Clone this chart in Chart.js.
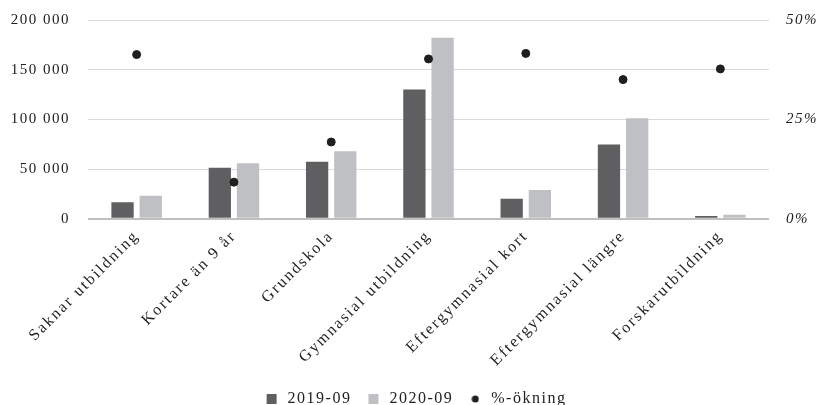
<!DOCTYPE html>
<html>
<head>
<meta charset="utf-8">
<script src="https://cdn.jsdelivr.net/npm/chart.js@4.4.1/dist/chart.umd.min.js"></script>
<style>
  html, body { margin: 0; padding: 0; background: #fff; }
  #wrap { width: 822px; height: 405px; }
</style>
</head>
<body>
<div id="wrap"><canvas id="chart"></canvas></div>
<script>
  var CATEGORIES = [
    'Saknar utbildning',
    'Kortare än 9 år',
    'Grundskola',
    'Gymnasial utbildning',
    'Eftergymnasial kort',
    'Eftergymnasial längre',
    'Forskarutbildning'
  ];
  var SERIES_2019 = [16500, 51200, 57300, 130000, 20200, 74700, 2800];
  var SERIES_2020 = [23200, 55900, 68000, 182100, 29000, 101000, 3900];
  var INCREASE = [0.413, 0.092, 0.193, 0.402, 0.416, 0.350, 0.377];

  var LEFT_MAX = 200000;
  var LEFT_STEP = 50000;
  var RIGHT_MAX = 0.5;
  var RIGHT_STEP = 0.125;

  var COLORS = {
    dark: '#5f5f61',
    light: '#bfc0c3',
    dot: '#1f1f1f',
    grid: '#d9d9d9',
    base: '#bfbfbf',
    text: '#222222'
  };

  var SERIF = '"Liberation Serif", "DejaVu Serif", serif';

  // letter spacing per piece of text (canvas ctx.letterSpacing)
  var SPACING = { base: '1.5px', x: '2px', y: '1.5px', y1: '1.5px' };

  function spaced(n) {
    return String(n).replace(/\B(?=(\d{3})+(?!\d))/g, ' ');
  }

  // small dot for the legend entry of the scatter series
  function legendDot() {
    var c = document.createElement('canvas');
    c.width = 8;
    c.height = 8;
    var g = c.getContext('2d');
    g.fillStyle = COLORS.dot;
    g.beginPath();
    g.arc(4, 4, 3.5, 0, Math.PI * 2);
    g.fill();
    return c;
  }

  function spacingOn(axis) { axis.ctx.letterSpacing = SPACING[axis.id]; }
  function spacingOff(axis) { axis.ctx.letterSpacing = SPACING.base; }

  function fixedWidth(w) {
    return function(axis) {
      axis.width = w;
      axis.paddingTop = 0;
      axis.paddingBottom = 0;
    };
  }

  var letterSpacing = {
    id: 'letterSpacing',
    beforeLayout: function(chart) { chart.ctx.letterSpacing = SPACING.base; },
    beforeDraw: function(chart) {
      chart.ctx.letterSpacing = SPACING.base;
      Object.keys(chart.scales).forEach(function(id) {
        var s = chart.scales[id];
        if (s._spacedLabels) return;
        var orig = s.drawLabels;
        s.drawLabels = function(area) {
          spacingOn(this);
          orig.call(this, area);
          spacingOff(this);
        };
        s._spacedLabels = true;
      });
    }
  };

  Chart.defaults.font.family = SERIF;
  Chart.defaults.color = COLORS.text;

  new Chart(document.getElementById('chart'), {
    type: 'bar',
    data: {
      labels: CATEGORIES,
      datasets: [
        {
          label: '2019-09',
          data: SERIES_2019,
          backgroundColor: COLORS.dark,
          categoryPercentage: 0.58,
          barPercentage: 0.79,
          pointStyle: 'rect',
          yAxisID: 'y',
          order: 2
        },
        {
          label: '2020-09',
          data: SERIES_2020,
          backgroundColor: COLORS.light,
          categoryPercentage: 0.58,
          barPercentage: 0.79,
          pointStyle: 'rect',
          yAxisID: 'y',
          order: 2
        },
        {
          type: 'line',
          label: '%-ökning',
          data: INCREASE,
          showLine: false,
          pointRadius: 4,
          pointHoverRadius: 4,
          pointBackgroundColor: COLORS.dot,
          pointBorderColor: COLORS.dot,
          backgroundColor: COLORS.dot,
          borderColor: COLORS.dot,
          yAxisID: 'y1',
          order: 1
        }
      ]
    },
    options: {
      responsive: true,
      maintainAspectRatio: false,
      animation: false,
      layout: { padding: { top: 20, left: 11, right: 3, bottom: -12 } },
      plugins: {
        tooltip: { enabled: false },
        legend: {
          position: 'bottom',
          labels: {
            usePointStyle: true,
            boxHeight: 10,
            padding: 14,
            color: COLORS.text,
            font: { size: 16, family: SERIF },
            sort: function(a, b) { return a.datasetIndex - b.datasetIndex; },
            generateLabels: function(chart) {
              var items = Chart.defaults.plugins.legend.labels.generateLabels(chart);
              items.forEach(function(it) {
                if (it.datasetIndex === 2) it.pointStyle = legendDot();
                it.lineWidth = 0;
              });
              return items;
            }
          }
        }
      },
      scales: {
        x: {
          grid: { display: false },
          border: { display: false },
          beforeUpdate: spacingOn,
          afterUpdate: spacingOff,
          afterFit: function(axis) {
            axis.paddingLeft = 0;
            axis.paddingRight = 0;
            axis.height = axis.height + 7;
          },
          ticks: {
            maxRotation: 45,
            minRotation: 45,
            padding: 0,
            color: COLORS.text,
            font: { size: 16, family: SERIF }
          }
        },
        y: {
          position: 'left',
          min: 0,
          max: LEFT_MAX,
          border: { display: false },
          beforeUpdate: spacingOn,
          afterUpdate: spacingOff,
          afterFit: fixedWidth(77),
          grid: {
            drawTicks: false,
            lineWidth: function(ctx) { return ctx.tick && ctx.tick.value === 0 ? 2 : 1; },
            color: function(ctx) { return ctx.tick && ctx.tick.value === 0 ? COLORS.base : COLORS.grid; }
          },
          ticks: {
            stepSize: LEFT_STEP,
            padding: 18,
            color: COLORS.text,
            font: { size: 15, family: SERIF },
            callback: function(v) { return spaced(v); }
          }
        },
        y1: {
          position: 'right',
          min: 0,
          max: RIGHT_MAX,
          border: { display: false },
          beforeUpdate: spacingOn,
          afterUpdate: spacingOff,
          afterFit: fixedWidth(50),
          grid: { display: false, drawTicks: false },
          ticks: {
            stepSize: RIGHT_STEP,
            padding: 17,
            color: COLORS.text,
            font: { size: 15, family: SERIF, style: 'italic' },
            callback: function(v) {
              var p = Math.round(v * 1000) / 10;
              return p % 25 === 0 ? p + '%' : '';
            }
          }
        }
      }
    },
    plugins: [letterSpacing]
  });
</script>
</body>
</html>
